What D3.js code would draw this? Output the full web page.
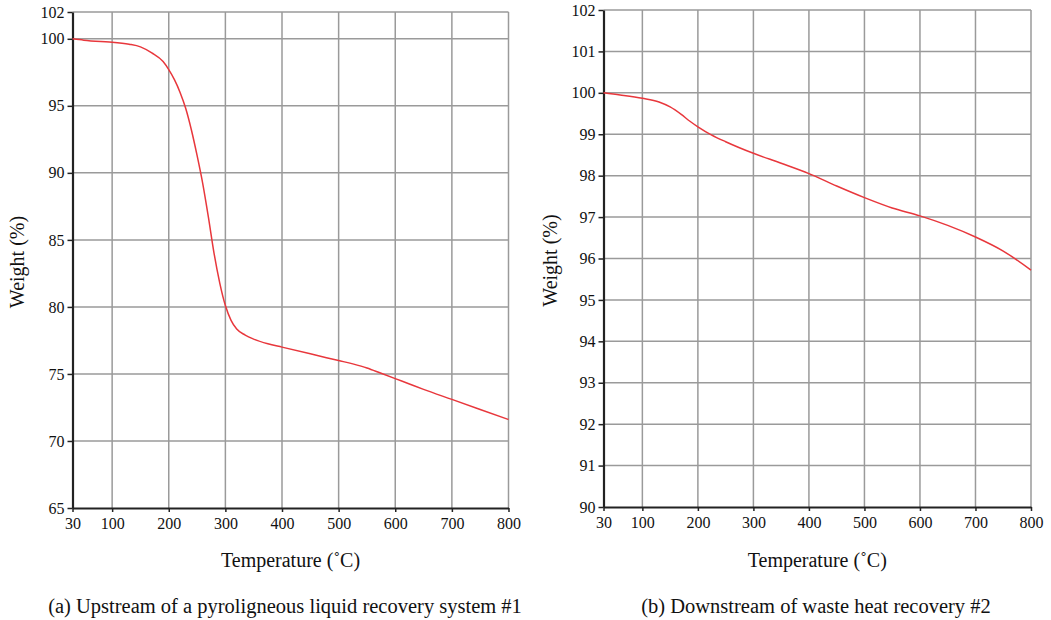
<!DOCTYPE html>
<html><head><meta charset="utf-8">
<script src="https://cdn.jsdelivr.net/npm/d3@7"></script>
<style>body{margin:0;background:#fff}svg{display:block}text{font-family:"Liberation Serif","Times New Roman",serif;fill:#111}</style>
</head><body>
<svg id="c" width="1051" height="620"></svg>
<script>
const xTicks = [30,100,200,300,400,500,600,700,800];
const yTicksA = [65,70,75,80,85,90,95,100,102];
const yTicksB = [90,91,92,93,94,95,96,97,98,99,100,101,102];
const tempA = [30,50,80,100,130,150,170,190,200,210,220,230,240,250,260,270,280,290,300,310,320,335,350,375,400,450,500,525,550,575,600,625,650,700,750,800];
const weightA = [100,99.9,99.8,99.75,99.6,99.4,98.95,98.3,97.7,96.95,96.0,94.8,93.2,91.3,89.2,86.7,84.0,81.8,80.1,79.0,78.35,77.9,77.6,77.25,77.0,76.5,76.0,75.75,75.45,75.05,74.65,74.25,73.85,73.1,72.35,71.6];
const tempB = [30,60,100,130,150,170,185,200,225,250,300,350,400,450,500,550,600,650,700,750,800];
const weightB = [100,99.95,99.87,99.78,99.66,99.48,99.32,99.18,98.98,98.82,98.54,98.3,98.05,97.75,97.47,97.22,97.03,96.8,96.52,96.18,95.72];
const xLabel = "Temperature (˚C)";
const yLabel = "Weight (%)";
const captionA = "(a) Upstream of a pyroligneous liquid recovery system #1";
const captionB = "(b) Downstream of waste heat recovery #2";

const svg = d3.select("#c");

function panel(o){
  const g = svg.append("g");
  const x = d3.scaleLinear().domain([30,800]).range([o.x0,o.x1]);
  const y = d3.scaleLinear().domain(o.yDomain).range([o.y1,o.y0]);
  g.selectAll(".vg").data(xTicks.filter(d=>d!==30)).join("line")
    .attr("x1",d=>x(d)).attr("x2",d=>x(d)).attr("y1",y(o.yDomain[1])).attr("y2",y(o.yDomain[0]))
    .attr("stroke","#9a9a9a").attr("stroke-width",1.5);
  g.selectAll(".hg").data(o.yTicks.filter(d=>d!==o.yDomain[0])).join("line")
    .attr("x1",x(30)).attr("x2",x(800)).attr("y1",d=>y(d)).attr("y2",d=>y(d))
    .attr("stroke","#9a9a9a").attr("stroke-width",1.5);
  const ax = g.append("g").attr("transform",`translate(0,${o.y1})`)
    .call(d3.axisBottom(x).tickValues(xTicks).tickSize(4).tickSizeOuter(0).tickPadding(6));
  const ay = g.append("g").attr("transform",`translate(${o.x0},0)`)
    .call(d3.axisLeft(y).tickValues(o.yTicks).tickSize(5).tickSizeOuter(0).tickPadding(3));
  [ax,ay].forEach(a=>{
    a.select(".domain").attr("stroke","#222").attr("stroke-width",2.2);
    a.selectAll(".tick line").attr("stroke","#222").attr("stroke-width",1.5);
    a.selectAll(".tick text").style("font-family",'"Liberation Serif",serif').style("font-size","16px").attr("fill","#111");
  });
  const line = d3.line().x((d,i)=>x(o.t[i])).y(d=>y(d)).curve(d3.curveMonotoneX);
  g.append("path").datum(o.w).attr("d",line).attr("fill","none").attr("stroke","#e8373c").attr("stroke-width",1.5);
  g.append("text").attr("x",(o.x0+o.x1)/2).attr("y",567).attr("text-anchor","middle").style("font-size","20px").text(xLabel);
  g.append("text").attr("transform",`translate(${o.ylx},${(o.y0+o.y1)/2+2}) rotate(-90)`).attr("text-anchor","middle").style("font-size","20px").text(yLabel);
  g.append("text").attr("x",o.capX).attr("y",613).attr("text-anchor","middle").style("font-size","20.5px").text(o.caption);
}

panel({x0:72.5,x1:508.5,y0:12,y1:508,yDomain:[65,102],yTicks:yTicksA,t:tempA,w:weightA,ylx:24,capX:285,caption:captionA});
panel({x0:603.5,x1:1031,y0:10,y1:507,yDomain:[90,102],yTicks:yTicksB,t:tempB,w:weightB,ylx:557,capX:816,caption:captionB});
</script>
</body></html>
